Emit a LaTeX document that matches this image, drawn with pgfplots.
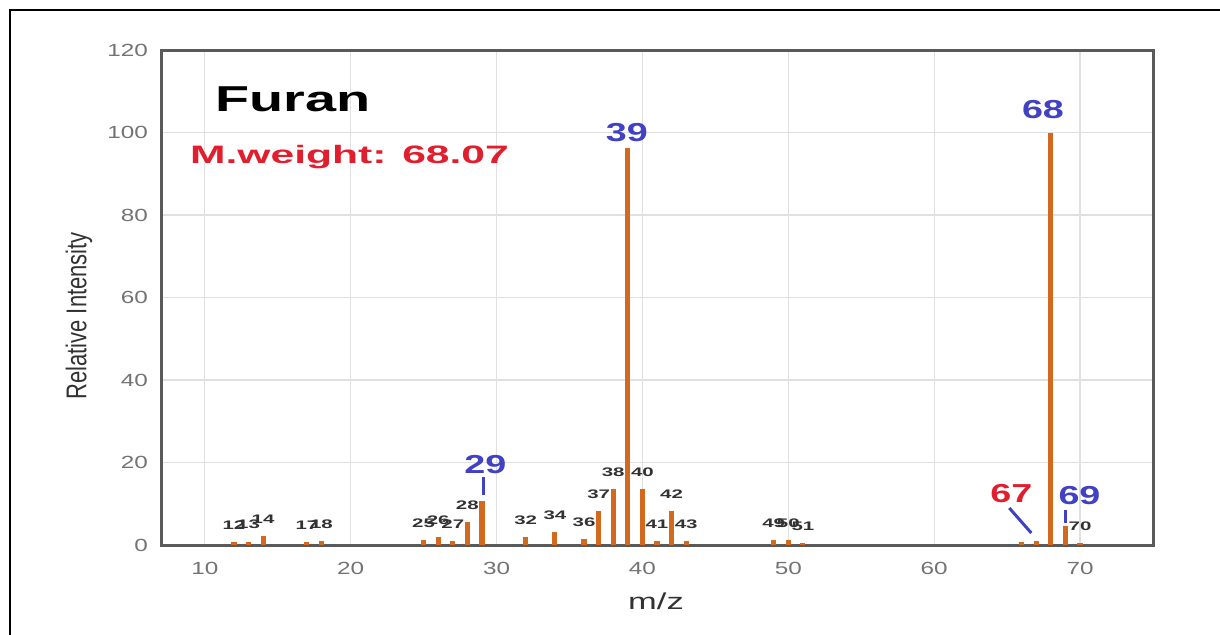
\documentclass[border=0pt]{standalone}
\usepackage{pgfplots}
\pgfplotsset{compat=1.18}
\usepackage{fontspec}
\setmainfont{Liberation Sans}
\definecolor{peak}{RGB}{210,105,30}
\definecolor{lblue}{RGB}{65,65,195}
\definecolor{lred}{RGB}{225,30,45}
\definecolor{framec}{RGB}{90,90,90}
\definecolor{ticklab}{RGB}{115,115,115}
\definecolor{plab}{RGB}{50,50,50}
\begin{document}
\begin{tikzpicture}
\begin{axis}[
  at={(80.5pt,44.5pt)}, anchor=south west,
  scale only axis, width=496pt, height=247.5pt,
  xmin=7, xmax=75, ymin=0, ymax=120,
  xtick={10,20,...,70}, ytick={0,20,...,120},
  major tick length=0pt,
  grid=major, major grid style={draw=black!12, line width=0.6pt},
  axis line style={draw=framec, line width=1.5pt},
  /pgf/number format/assume math mode=true,
  xticklabel={\scalebox{1.38}[1]{\pgfmathprintnumber{\tick}}},
  yticklabel={\scalebox{1.38}[1]{\pgfmathprintnumber{\tick}}},
  xticklabel style={font=\fontsize{8.8}{10}\selectfont, text=ticklab, yshift=-5pt},
  yticklabel style={font=\fontsize{8.8}{10}\selectfont, text=ticklab, xshift=-3pt},
  xlabel={\scalebox{1.5}[1]{m/z}},
  ylabel={\scalebox{1}[1.3]{Relative Intensity}},
  xlabel style={at={(axis description cs:0.499,-0.131)}, anchor=base, font=\fontsize{11.5}{13}\selectfont, text=plab},
  ylabel style={at={(axis description cs:-0.0827,0.463)}, anchor=center, font=\fontsize{11}{13}\selectfont, text=plab},
  clip=false,
]
% labelled peaks
\addplot[ycomb, draw=peak, line width=2.6pt, mark=none, point meta=x,
  nodes near coords={\scalebox{1.65}[1]{\pgfmathprintnumber{\pgfplotspointmeta}}},
  every node near coord/.append style={font=\fontsize{6.2}{7}\selectfont\bfseries, text=plab, anchor=center, yshift=8.5pt, inner sep=0pt}]
coordinates {
(12,0.7) (13,0.8) (14,2.2) (17,0.7) (18,1.0)
(25,1.2) (26,2.0) (27,1.0) (28,5.6)
(32,2.0) (34,3.2) (36,1.5) (37,8.3) (38,13.6) (40,13.6) (41,1.0) (42,8.2) (43,1.0)
(49,1.2) (50,1.2) (51,0.5) (70,0.5)
};
% unlabelled / highlighted peaks
\addplot[ycomb, draw=peak, line width=2.6pt, mark=none]
coordinates {
(29,10.7) (39,96.2) (66,0.7) (67,1.0) (68,100) (69,4.6)
};
% annotations
\node[anchor=base, inner sep=0pt, text=lblue, font=\fontsize{13}{15}\selectfont\bfseries] at (axis cs:38.93,97.7) {\scalebox{1.45}[1]{39}};
\node[anchor=base, inner sep=0pt, text=lblue, font=\fontsize{13}{15}\selectfont\bfseries] at (axis cs:67.46,103.3) {\scalebox{1.45}[1]{68}};
\node[anchor=base, inner sep=0pt, text=lblue, font=\fontsize{13}{15}\selectfont\bfseries] at (axis cs:29.23,17.45) {\scalebox{1.45}[1]{29}};
\node[anchor=base, inner sep=0pt, text=lblue, font=\fontsize{13}{15}\selectfont\bfseries] at (axis cs:69.96,9.7) {\scalebox{1.45}[1]{69}};
\node[anchor=base, inner sep=0pt, text=lred, font=\fontsize{13}{15}\selectfont\bfseries] at (axis cs:65.29,10.4) {\scalebox{1.45}[1]{67}};
\draw[lblue, line width=1.5pt] (axis cs:29.1,16.5) -- (axis cs:29.1,12.1);
\draw[lblue, line width=1.5pt] (axis cs:69,8.5) -- (axis cs:69,5.3);
\draw[lblue, line width=1.5pt] (axis cs:65.15,8.97) -- (axis cs:66.66,2.9);
\node[anchor=base west, inner sep=0pt, font=\fontsize{18}{20}\selectfont\bfseries] at (axis cs:10.7,105) {\scalebox{1.55}[1]{Furan}};
\node[anchor=base west, inner sep=0pt, text=lred, font=\fontsize{12.6}{14}\selectfont\bfseries] at (axis cs:8.97,92.6) {\scalebox{1.69}[1]{M.weight: 68.07}};
\end{axis}
\draw[black, line width=1pt] (5pt,-10pt) -- (5pt,311.8pt) -- (620pt,311.8pt);
\pgfresetboundingbox
\useasboundingbox (0,0) rectangle (610pt,317pt);
\end{tikzpicture}
\end{document}
